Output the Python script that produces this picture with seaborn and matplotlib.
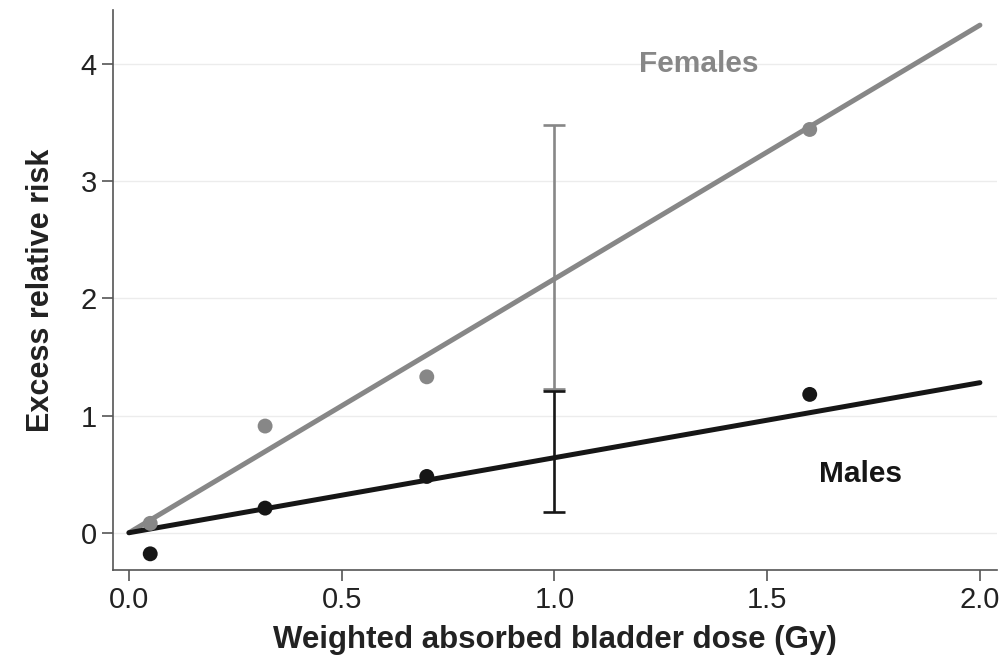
import matplotlib
matplotlib.use("Agg")
import matplotlib.pyplot as plt
import seaborn as sns
import pandas as pd

# Observed excess relative risk by dose category
dose_points = [0.05, 0.32, 0.70, 1.60]
female_err = [0.08, 0.91, 1.33, 3.44]
male_err = [-0.18, 0.21, 0.48, 1.18]

# Fitted linear dose-response (endpoints of the fit)
fit_dose = [0.0, 2.0]
female_fit = [0.0, 4.33]
male_fit = [0.0, 1.28]

# ERR per Gy with 95% CI at 1 Gy
ci_dose = 1.0
female_ci = (2.165, 1.23, 3.48)
male_ci = (0.64, 0.18, 1.21)

x_ticks = [0.0, 0.5, 1.0, 1.5, 2.0]
y_ticks = [0, 1, 2, 3, 4]

FEMALE_COL = "#878787"
MALE_COL = "#161616"

sns.set_theme(style="ticks")
plt.rcParams["font.family"] = ["Liberation Sans", "DejaVu Sans"]

fig = plt.figure(figsize=(10.07, 6.60), dpi=100)
ax = fig.add_axes([0.112, 0.136, 0.878, 0.849])

pts = pd.DataFrame({
    "dose": dose_points * 2,
    "err": female_err + male_err,
    "sex": ["Females"] * len(dose_points) + ["Males"] * len(dose_points),
})
fits = pd.DataFrame({
    "dose": fit_dose * 2,
    "err": female_fit + male_fit,
    "sex": ["Females"] * 2 + ["Males"] * 2,
})
palette = {"Females": FEMALE_COL, "Males": MALE_COL}

sns.lineplot(data=fits, x="dose", y="err", hue="sex", palette=palette,
             linewidth=3.6, legend=False, ax=ax, zorder=3)
sns.scatterplot(data=pts, x="dose", y="err", hue="sex", palette=palette,
                s=115, edgecolor="none", legend=False, ax=ax, zorder=4)

for (mid, lo, hi), col in [(female_ci, FEMALE_COL), (male_ci, MALE_COL)]:
    ax.errorbar([ci_dose], [mid], yerr=[[mid - lo], [hi - mid]], fmt="none",
                ecolor=col, elinewidth=1.9, capsize=8, capthick=1.9, zorder=5)

ax.text(1.34, 4.0, "Females", color=FEMALE_COL, fontsize=21.5, fontweight="bold",
        ha="center", va="center")
ax.text(1.72, 0.50, "Males", color=MALE_COL, fontsize=21.5, fontweight="bold",
        ha="center", va="center")

ax.set_xlim(-0.038, 2.04)
ax.set_ylim(-0.32, 4.46)
ax.set_xticks(x_ticks)
ax.set_xticklabels([f"{v:.1f}" for v in x_ticks])
ax.set_yticks(y_ticks)
ax.yaxis.grid(True, color="#ececec", linewidth=1.0)
ax.set_axisbelow(True)

ax.tick_params(axis="both", labelsize=21, length=8, width=1.2,
               color="#555555", labelcolor="#222222", direction="out")
for side in ["top", "right"]:
    ax.spines[side].set_visible(False)
for side in ["left", "bottom"]:
    ax.spines[side].set_color("#555555")
    ax.spines[side].set_linewidth(1.2)

ax.set_xlabel("Weighted absorbed bladder dose (Gy)", fontsize=22.5,
              fontweight="bold", color="#222222", labelpad=8)
ax.set_ylabel("Excess relative risk", fontsize=22, fontweight="bold",
              color="#222222", labelpad=18)

fig.savefig("out.png", dpi=100)
